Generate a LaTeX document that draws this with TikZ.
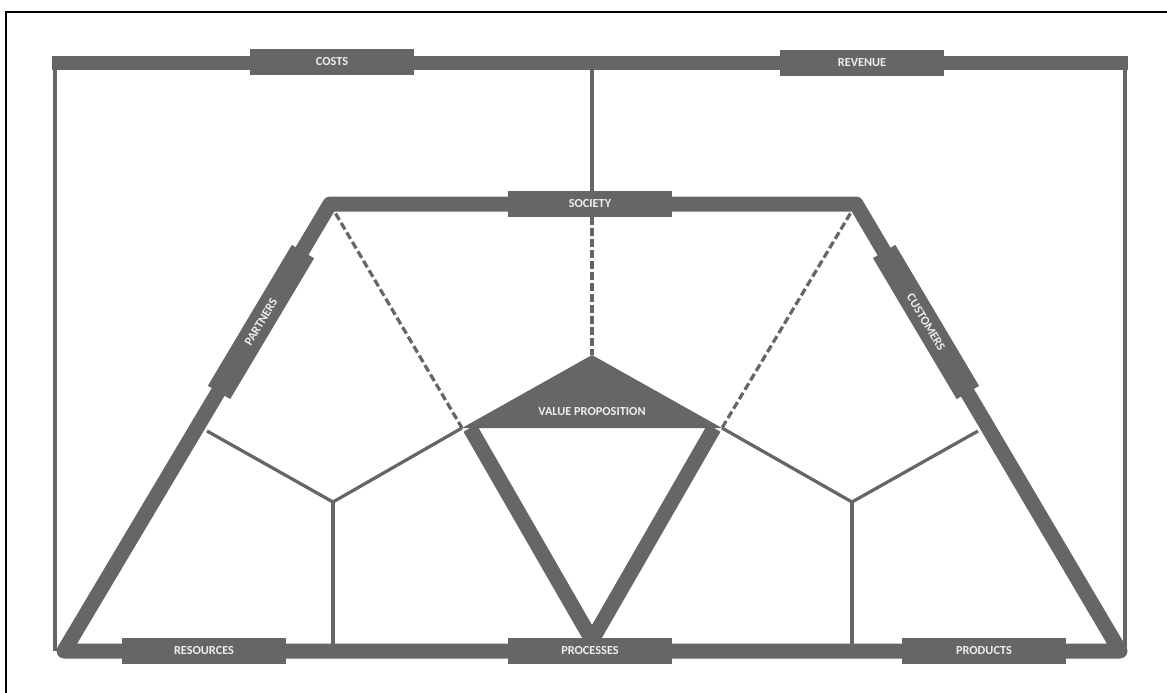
\documentclass[tikz,border=0pt]{standalone}
\usepackage{fontspec}
\setmainfont{Carlito}
\usepackage{xcolor}
\usepackage{tikz}
\definecolor{bargrey}{RGB}{102,102,102}
\definecolor{labelgrey}{RGB}{238,238,238}

\begin{document}
\begin{tikzpicture}[x=0.02cm, y=-0.02cm,
bar/.style={draw=bargrey, line width=0.3cm, line join=round},
thinline/.style={draw=bargrey, line width=0.065cm},
dashline/.style={draw=bargrey, line width=0.065cm, dash pattern=on 0.15cm off 0.07cm},
tag/.style={fill=bargrey, text=labelgrey, minimum width=3.28cm, minimum height=0.52cm, inner sep=0pt, font=\bfseries\fontsize{7}{8}\selectfont}
]
\useasboundingbox (0,0) rectangle (1167,693);
\draw[line width=0.045cm] (6,693) -- (6,12) -- (1167,12);

% outer frame and trapezoid corners
\coordinate (tl) at (52,63);
\coordinate (tr) at (1128,63);
\coordinate (topmid) at (592,63);
\coordinate (bl) at (64,651);
\coordinate (br) at (1120,651);
\coordinate (socl) at (330,204);
\coordinate (socr) at (856,204);

% value proposition triangle
\coordinate (apex) at (592,355);
\coordinate (vpl) at (462,428);
\coordinate (vpr) at (722,428);
\coordinate (vbot) at (592,640);

% inner thin hubs
\coordinate (lpart) at (207,431);
\coordinate (lhub) at (333,502);
\coordinate (lfoot) at (333,651);
\coordinate (rcust) at (978,431);
\coordinate (rhub) at (852,502);
\coordinate (rfoot) at (852,651);

\draw[thinline] (55,63) -- (55,651);
\draw[thinline] (1125,63) -- (1125,651);
\draw[thinline] (lpart) -- (lhub) -- (vpl);
\draw[thinline] (lhub) -- (lfoot);
\draw[thinline] (rcust) -- (rhub) -- (vpr);
\draw[thinline] (rhub) -- (rfoot);

\draw[bar] (tl) -- (tr);
\draw[bar] (bl) -- (socl) -- (socr) -- (br) -- cycle;
\draw[bar, line join=miter] (470,428) -- (vbot) -- (714,428);

\node[tag] (costs) at (332,62) {COSTS};
\node[tag] (revenue) at (862,63) {REVENUE};
\node[tag] (society) at (590,204) {SOCIETY};
\node[tag] (resources) at (204,651) {RESOURCES};
\node[tag] (processes) at (590,651) {PROCESSES};
\node[tag] (products) at (984,651) {PRODUCTS};
\node[tag, rotate=59.2] (partners) at (261,322) {PARTNERS};
\node[tag, rotate=-59.3] (customers) at (926,322) {CUSTOMERS};

\draw[thinline] (topmid) -- (topmid |- society.north);
\draw[dashline] (topmid |- society.south) -- (apex);
\draw[dashline] (socl) -- (vpl);
\draw[dashline] (socr) -- (vpr);

\fill[bargrey] (apex) -- (vpl) -- (vpr) -- cycle;
\node[text=labelgrey, font=\bfseries\fontsize{7}{8}\selectfont] (valueprop) at (592,412) {VALUE PROPOSITION};
\end{tikzpicture}
\end{document}
